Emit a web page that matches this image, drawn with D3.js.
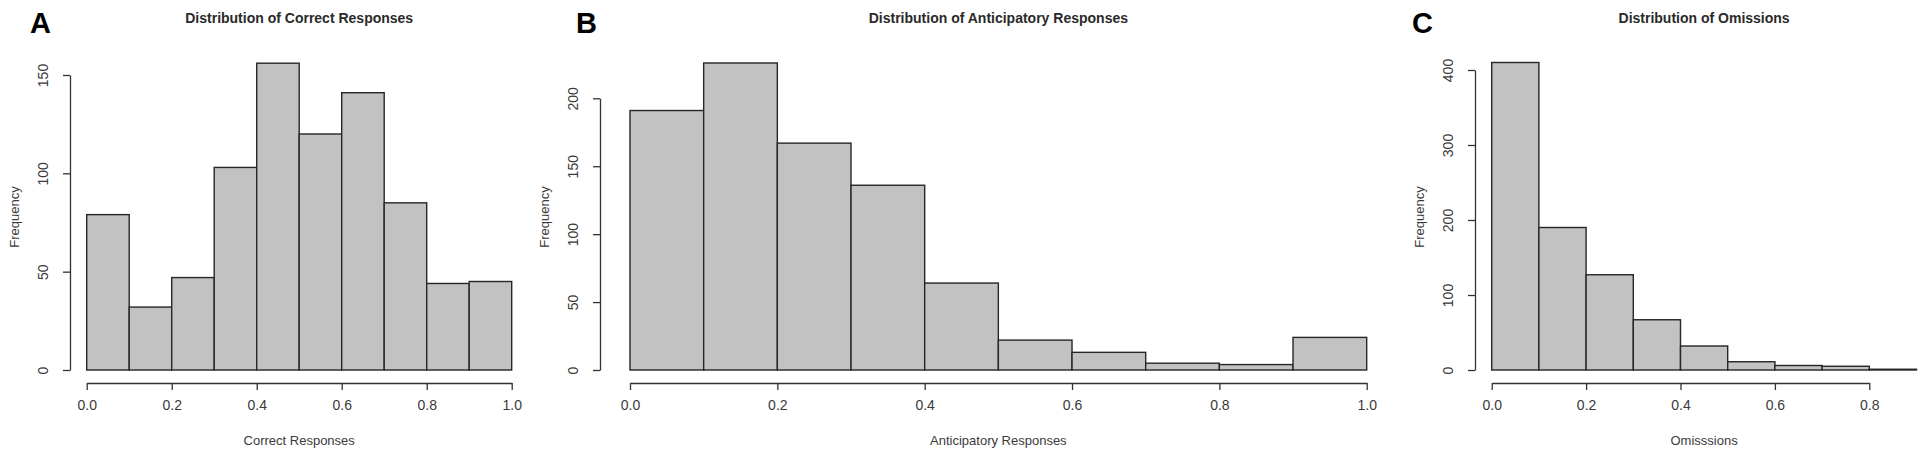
<!DOCTYPE html>
<html lang="en">
<head>
<meta charset="UTF-8">
<title>Distributions</title>
<style>
  body { margin: 0; background: #fff; }
  svg text { font-family: "Liberation Sans", Arial, sans-serif; fill: #2a2a2a; }
  .bar { fill: #c2c2c2; stroke: #262626; stroke-width: 1.4px; }
  .axis path, .axis line { stroke: #333; stroke-width: 1.3px; }
  .axis text { font-size: 14px; fill: #3a3a3a; }
  .titulo { font-size: 14px; font-weight: bold; }
  .etiqueta { font-size: 13px; fill: #3a3a3a; }
  .letra { font-size: 29px; font-weight: bold; fill: #000; }
</style>
<script src="https://d3js.org/d3.v7.min.js"></script>
</head>
<body>
<script>
// bin edges (width 0.1)
var breaks = [0, 0.1, 0.2, 0.3, 0.4, 0.5, 0.6, 0.7, 0.8, 0.9, 1.0];

// counts per bin
var correctCounts = [79, 32, 47, 103, 156, 120, 141, 85, 44, 45];
var anticipCounts = [191, 226, 167, 136, 64, 22, 13, 5, 4, 24];
var omissCounts   = [410, 190, 127, 67, 32, 11, 6, 5, 1];

// axis ticks
var xTicksAB = [0, 0.2, 0.4, 0.6, 0.8, 1.0];
var xTicksC  = [0, 0.2, 0.4, 0.6, 0.8];
var yTicksA  = [0, 50, 100, 150];
var yTicksB  = [0, 50, 100, 150, 200];
var yTicksC  = [0, 100, 200, 300, 400];

var titles  = ["Distribution of Correct Responses", "Distribution of Anticipatory Responses", "Distribution of Omissions"];
var xLabels = ["Correct Responses", "Anticipatory Responses", "Omisssions"];
var letters = ["A", "B", "C"];

var svg = d3.select("body").append("svg")
    .attr("width", 1928)
    .attr("height", 455);

var base = 370;     // y of zero count
var xAxisY = 383;   // y of the x axis line

// one histogram panel
function panel(cfg) {
  var g = svg.append("g");
  var x = d3.scaleLinear().domain([0, cfg.xTicks[cfg.xTicks.length - 1]]).range([cfg.x0, cfg.x1]);
  var y = d3.scaleLinear().domain([0, cfg.yTicks[cfg.yTicks.length - 1]]).range([base, cfg.yTop]);

  var bins = cfg.counts.map(function(c, i) { return {lo: breaks[i], hi: breaks[i + 1], n: c}; });

  g.selectAll("rect").data(bins).enter().append("rect")
    .attr("class", "bar")
    .attr("x", function(d) { return x(d.lo); })
    .attr("width", function(d) { return x(d.hi) - x(d.lo); })
    .attr("y", function(d) { return y(d.n); })
    .attr("height", function(d) { return base - y(d.n); });

  // x axis
  g.append("g").attr("class", "axis")
    .attr("transform", "translate(0," + xAxisY + ")")
    .call(d3.axisBottom(x).tickValues(cfg.xTicks).tickFormat(d3.format(".1f"))
      .tickSize(7).tickSizeOuter(0).tickPadding(10));

  // y axis, labels turned like R
  var ya = g.append("g").attr("class", "axis")
    .attr("transform", "translate(" + cfg.yAxisX + ",0)")
    .call(d3.axisLeft(y).tickValues(cfg.yTicks).tickSize(7).tickSizeOuter(0));
  ya.selectAll(".tick text")
    .attr("x", null).attr("dy", null)
    .attr("text-anchor", "middle")
    .attr("transform", "translate(-22,0) rotate(-90)");
  ya.selectAll(".domain, .tick line").attr("stroke", "#333");

  var cx = (cfg.x0 + cfg.x1r) / 2;
  g.append("text").attr("class", "titulo").attr("x", cx).attr("y", 23)
    .attr("text-anchor", "middle").text(cfg.title);
  g.append("text").attr("class", "etiqueta").attr("x", cx).attr("y", 445)
    .attr("text-anchor", "middle").text(cfg.xLabel);
  g.append("text").attr("class", "etiqueta")
    .attr("transform", "translate(" + (cfg.yAxisX - 51) + ",217) rotate(-90)")
    .attr("text-anchor", "middle").text("Frequency");
  g.append("text").attr("class", "letra").attr("x", cfg.letterX).attr("y", 33).text(cfg.letter);
}

panel({counts: correctCounts, xTicks: xTicksAB, yTicks: yTicksA,
       x0: 86.7, x1: 511.7, x1r: 511.7, yTop: 75, yAxisX: 70,
       title: titles[0], xLabel: xLabels[0], letter: letters[0], letterX: 30});

panel({counts: anticipCounts, xTicks: xTicksAB, yTicks: yTicksB,
       x0: 630, x1: 1366.7, x1r: 1366.7, yTop: 98.3, yAxisX: 600,
       title: titles[1], xLabel: xLabels[1], letter: letters[1], letterX: 576});

panel({counts: omissCounts, xTicks: xTicksC, yTicks: yTicksC,
       x0: 1491.7, x1: 1869.3, x1r: 1916.5, yTop: 70, yAxisX: 1475,
       title: titles[2], xLabel: xLabels[2], letter: letters[2], letterX: 1412});
</script>
</body>
</html>
